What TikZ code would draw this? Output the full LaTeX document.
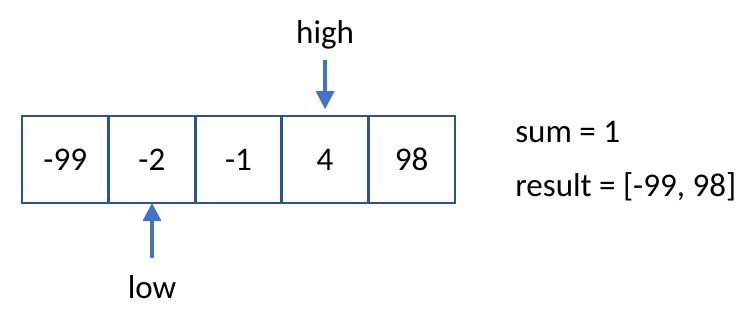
\documentclass[tikz,border=0pt]{standalone}
\usepackage{fontspec}
\setmainfont{Carlito}
\usetikzlibrary{positioning,arrows.meta}

\definecolor{cellline}{HTML}{2F528F}
\definecolor{ptrblue}{HTML}{4472C4}

\begin{document}
\begin{tikzpicture}[
    cell/.style={draw=cellline, line width=1.9pt, minimum width=2.165cm,
                 minimum height=2.175cm, inner sep=0pt, outer sep=0pt},
    ptr/.style={ptrblue, line width=2.5pt,
                -{Triangle[width=0.45cm, length=0.45cm]}},
    lbl/.style={font=\fontsize{23.5}{28}\selectfont, inner sep=0pt},
]
\useasboundingbox (0, 0) rectangle (18.85, 8.05);

% Cells
\foreach \v [count=\i] in {-99, -2, -1, 4, 98} {
    \node[cell, lbl] (c\i) at ({0.55 + (\i - 0.5) * 2.165}, 4.0625) {\v};
}

% Pointers
\node[lbl] (high) at (c4.center |- 0, 7.18) {high};
\coordinate (hightail) at (c4.center |- 0, 6.55);
\draw[ptr] (hightail) -- ([yshift=0.17cm]c4.north);

\node[lbl] (low) at (3.8, 0.88) {low};
\coordinate (lowtail) at (3.8, 1.6);
\draw[ptr] (lowtail) -- (c2.south -| lowtail);

% Annotation
\node[lbl, anchor=west] (sum) at (12.875, 4.75) {sum = 1};
\node[lbl, anchor=west] (result) at (12.875, 3.38) {result = [-99, 98]};

\end{tikzpicture}
\end{document}
